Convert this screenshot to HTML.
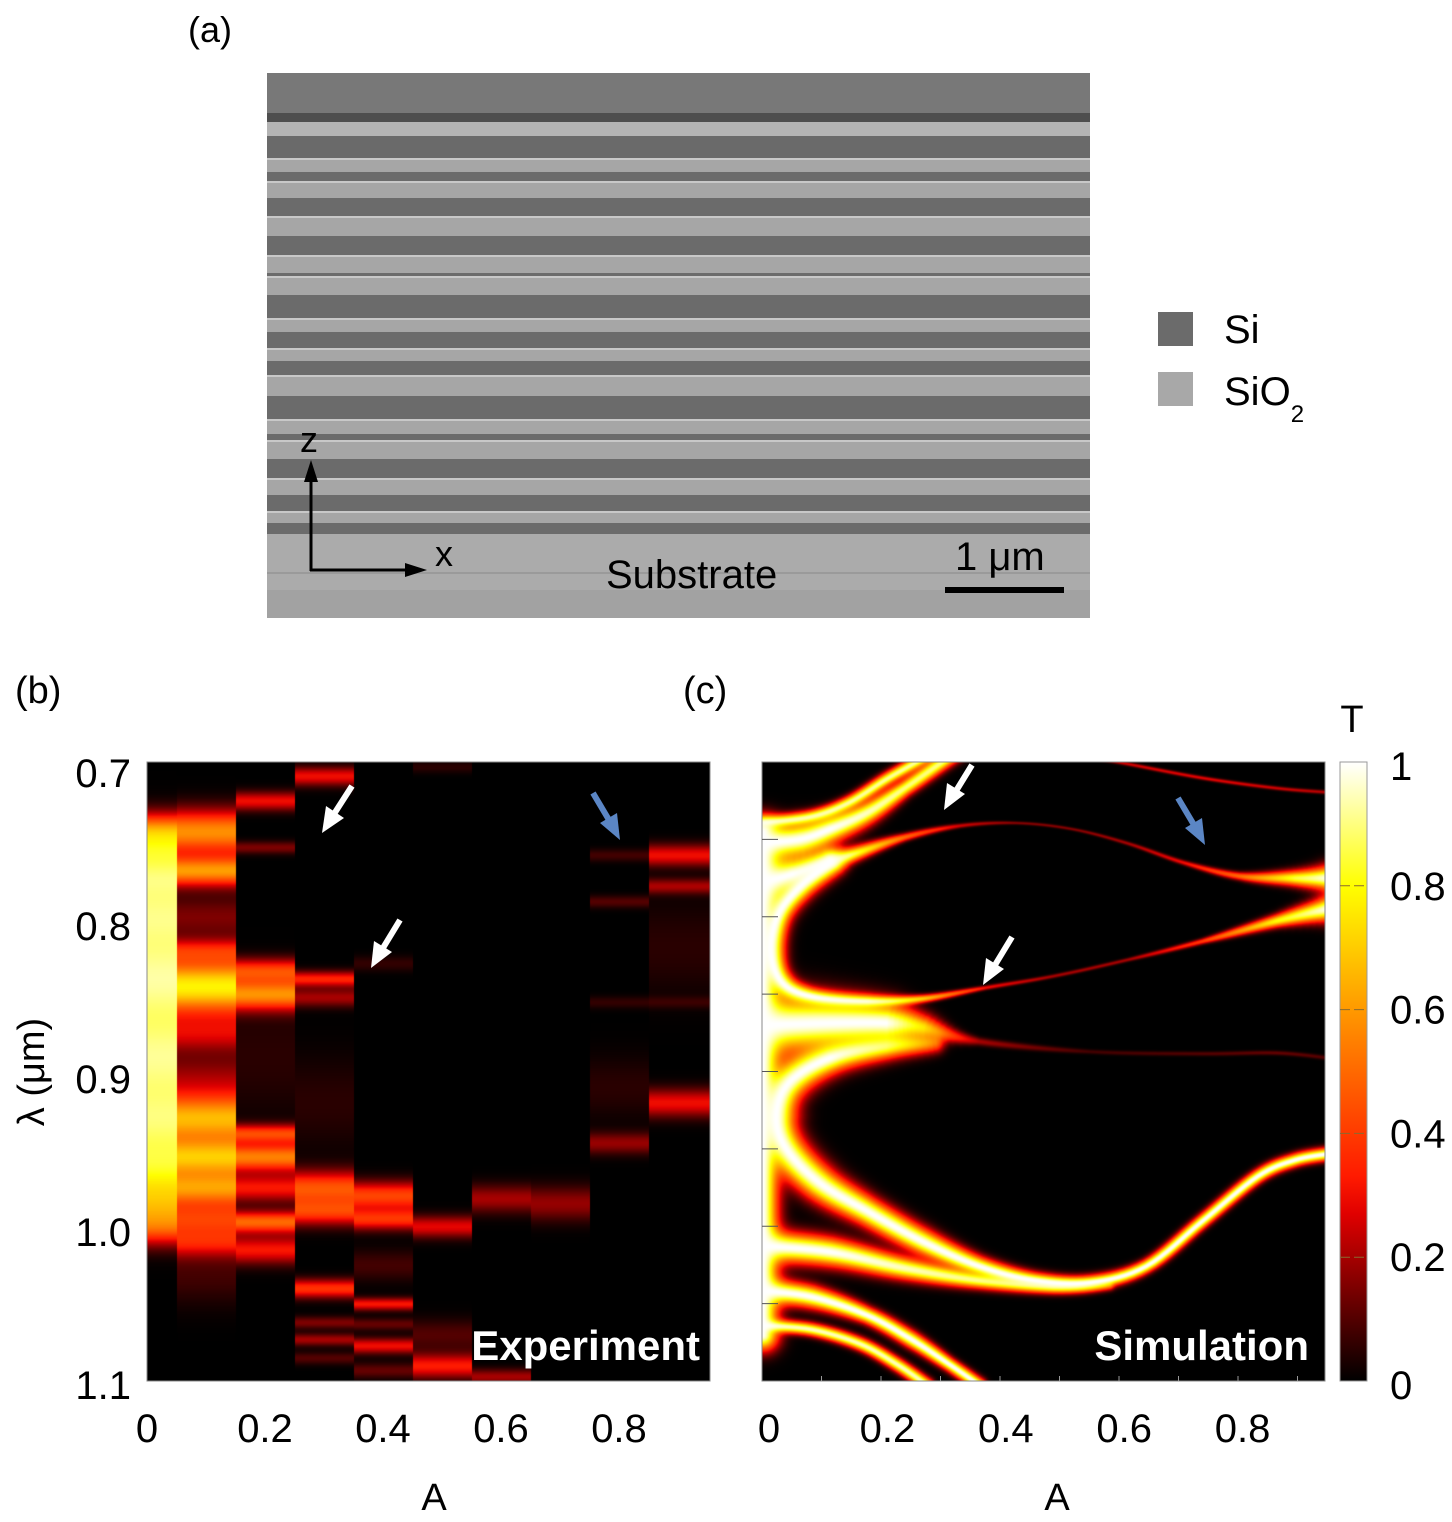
<!DOCTYPE html>
<html><head><meta charset="utf-8">
<style>
html,body{margin:0;padding:0;background:#fff;}
#wrap{position:relative;width:1452px;height:1522px;overflow:hidden;font-family:"Liberation Sans",sans-serif;}
canvas{position:absolute;}
svg{position:absolute;left:0;top:0;}
</style></head>
<body>
<div id="wrap">
<canvas id="cb" width="563" height="619" style="left:147px;top:762px"></canvas>
<canvas id="cc" width="563" height="619" style="left:762px;top:762px"></canvas>
<svg width="1452" height="1522" viewBox="0 0 1452 1522">
<defs>
<linearGradient id="hotg" x1="0" y1="1" x2="0" y2="0">
<stop offset="0" stop-color="#000"/><stop offset="0.27" stop-color="#e00000"/><stop offset="0.33" stop-color="#ff1a00"/>
<stop offset="0.55" stop-color="#ff8000"/><stop offset="0.8" stop-color="#ffff00"/><stop offset="1" stop-color="#ffffff"/>
</linearGradient>
</defs>
<text x="188" y="42" font-size="36">(a)</text>
<g id="sem"></g>
<g>
<line x1="311" y1="571" x2="311" y2="478" stroke="#000" stroke-width="3"/>
<polygon points="311,460 304,482 318,482" fill="#000"/>
<line x1="310" y1="570" x2="408" y2="570" stroke="#000" stroke-width="3"/>
<polygon points="427,570 405,563 405,577" fill="#000"/>
<text x="300" y="452" font-size="36">z</text>
<text x="435" y="566" font-size="36">x</text>
</g>
<text x="606" y="588" font-size="40">Substrate</text>
<text x="955" y="570" font-size="40">1 μm</text>
<rect x="945" y="587" width="119" height="6" fill="#000"/>
<g>
<rect x="1158" y="312" width="35" height="34" fill="#6b6b6b"/>
<text x="1224" y="343" font-size="40">Si</text>
<rect x="1158" y="372" width="35" height="34" fill="#a8a8a8"/>
<text x="1224" y="405" font-size="40">SiO<tspan font-size="24" dy="17">2</tspan></text>
</g>
<text x="15" y="703" font-size="38">(b)</text>
<text x="683" y="703" font-size="38">(c)</text>
<rect x="147" y="762" width="563" height="619" fill="none" stroke="#888" stroke-width="1"/>
<rect x="762" y="762" width="563" height="619" fill="none" stroke="#888" stroke-width="1"/>
<g id="ticks"></g>
<text transform="translate(44,1072) rotate(-90)" text-anchor="middle" font-size="38">λ (μm)</text>
<text x="434" y="1510" text-anchor="middle" font-size="38">A</text>
<text x="1057" y="1510" text-anchor="middle" font-size="38">A</text>
<text x="700" y="1360" text-anchor="end" font-size="42" font-weight="bold" fill="#fff">Experiment</text>
<text x="1309" y="1360" text-anchor="end" font-size="42" font-weight="bold" fill="#fff">Simulation</text>
<g>
<g><line x1="352" y1="786" x2="334" y2="814" stroke="#fff" stroke-width="6"/><polygon points="322,833 326,806 344,818" fill="#fff"/></g>
<g><line x1="400" y1="920" x2="383" y2="948" stroke="#fff" stroke-width="6"/><polygon points="371,968 374,941 392,952" fill="#fff"/></g>
<g><line x1="593" y1="793" x2="609" y2="820" stroke="#5b86c5" stroke-width="6"/><polygon points="620,840 600,823 617,813" fill="#5b86c5"/></g>
<g><line x1="972" y1="765" x2="956" y2="791" stroke="#fff" stroke-width="6"/><polygon points="944,810 947,783 965,794" fill="#fff"/></g>
<g><line x1="1012" y1="937" x2="995" y2="965" stroke="#fff" stroke-width="6"/><polygon points="983,985 986,958 1004,969" fill="#fff"/></g>
<g><line x1="1178" y1="798" x2="1194" y2="825" stroke="#5b86c5" stroke-width="6"/><polygon points="1205,845 1185,828 1202,818" fill="#5b86c5"/></g>
</g>
<rect x="1340" y="762" width="27" height="619" fill="url(#hotg)" stroke="#999" stroke-width="1"/>
<text x="1352" y="732" text-anchor="middle" font-size="38">T</text>
<g id="cbticks"></g>
</svg>
</div>
<script>
// ---------- SEM layer boundaries (y in image px) ----------
const semBounds=[158,172,181,198,216,236,255,273,276,295,318,332,348,361,375,396,419,434,440,459,478,495,511,523,534];
const semLight=[1,0,1,0,1,0,1,0,1,0,1,0,1,0,1,0,1,0,1,0,1,0,1,0];
// ---------- panel b data: per-column bands ----------
const bandCol=[0,0,0,0,0,0,0,0,0,0, 1,1,1,1,1,1,1,1,1,1,1,1,1, 2,2,2,2,2,2,2,2,2,2, 3,3,3,3,3,3,3,3,3,3, 4,4,4,4,4,4,4,4, 5,5,5,5, 6,6, 7, 8,8,8,8,8, 9,9,9,9,9];
const bandLam=[0.745,0.757,0.775,0.80,0.84,0.89,0.93,0.96,0.985,1.0, 0.745,0.77,0.80,0.822,0.845,0.875,0.905,0.93,0.955,0.975,0.995,1.01,1.03, 0.725,0.755,0.835,0.85,0.94,0.955,0.975,0.997,1.015,0.89, 0.709,0.84,0.852,0.975,0.99,1.04,1.062,1.073,1.085,0.92, 0.98,0.995,1.025,1.05,1.063,1.077,1.093,0.83, 0.703,1.0,1.09,1.07, 0.982,1.097, 0.985, 0.76,0.79,0.855,0.946,0.91, 0.76,0.78,0.855,0.92,0.82];
const bandT=[0.5,0.6,0.75,0.82,0.88,0.86,0.8,0.7,0.5,0.35, 0.58,0.6,0.15,0.3,0.78,0.25,0.18,0.65,0.68,0.58,0.38,0.3,0.08, 0.3,0.15,0.42,0.58,0.42,0.55,0.32,0.5,0.32,0.05, 0.3,0.35,0.2,0.45,0.4,0.38,0.15,0.2,0.1,0.05, 0.42,0.38,0.08,0.32,0.12,0.3,0.12,0.06, 0.05,0.28,0.33,0.1, 0.2,0.2, 0.18, 0.08,0.1,0.06,0.18,0.05, 0.3,0.2,0.06,0.3,0.05];
const bandW=[0.012,0.015,0.02,0.035,0.045,0.045,0.035,0.025,0.018,0.012, 0.014,0.01,0.014,0.008,0.018,0.012,0.018,0.016,0.014,0.012,0.012,0.01,0.02, 0.006,0.004,0.008,0.01,0.006,0.009,0.009,0.007,0.009,0.04, 0.006,0.005,0.006,0.011,0.009,0.006,0.004,0.004,0.004,0.03, 0.009,0.007,0.01,0.004,0.004,0.005,0.005,0.005, 0.004,0.007,0.008,0.01, 0.009,0.005, 0.011, 0.004,0.004,0.004,0.007,0.02, 0.007,0.005,0.004,0.009,0.03];
const colA=[0,0.1,0.2,0.3,0.4,0.5,0.6,0.7,0.8,0.9];
// ---------- panel c data: resonance curves (A, lambda, linewidth, peak T) ----------
const c1A=[0,0.083,0.145,0.2075,0.2575,0.295], c1L=[0.739,0.735,0.726,0.711,0.700,0.6916], c1W=[0.004,0.004,0.004,0.004,0.004,0.004], c1T=[0.92,0.92,0.92,0.92,0.92,0.92];
const c2A=[0,0.064,0.114,0.176,0.239,0.301,0.339], c2L=[0.752,0.7496,0.743,0.7325,0.7166,0.700,0.690], c2W=[0.011,0.011,0.009,0.007,0.005,0.005,0.005], c2T=[1,1,1,0.95,0.9,0.9,0.9];
const c3A=[0,0.051,0.145,0.239,0.3325,0.426,0.52,0.614,0.7075,0.801,0.895,0.951], c3L=[0.7774,0.7721,0.7602,0.7483,0.7409,0.7391,0.743,0.7523,0.7647,0.7734,0.7747,0.7747], c3W=[0.016,0.011,0.005,0.0025,0.0014,0.001,0.001,0.0012,0.0015,0.0025,0.005,0.008], c3T=[1,1,0.9,0.5,0.25,0.16,0.16,0.2,0.3,0.5,0.85,1];
const c4A=[0.551,0.601,0.739,0.864,0.951], c4L=[0.6968,0.70,0.710,0.7166,0.7193], c4W=[0.0012,0.0012,0.0012,0.0012,0.0012], c4T=[0.22,0.25,0.28,0.25,0.22];
const c5A=[0.951,0.864,0.739,0.614,0.489,0.376,0.27,0.176,0.0825,0.0325,0.01375,0.02625,0.06375,0.114], c5L=[0.7945,0.8024,0.8156,0.8275,0.8381,0.8455,0.8526,0.8544,0.8513,0.842,0.8222,0.7985,0.78,0.7642], c5W=[0.008,0.004,0.0018,0.0012,0.0012,0.0014,0.0025,0.004,0.005,0.007,0.008,0.008,0.008,0.008], c5T=[1,0.8,0.4,0.2,0.2,0.3,0.7,0.95,1,1,1,1,1,1];
const c6A=[0,0.114,0.2075,0.27,0.364,0.551,0.739,0.864,0.951], c6L=[0.8698,0.8684,0.8684,0.8711,0.8803,0.8869,0.8882,0.8877,0.8909], c6W=[0.02,0.016,0.013,0.008,0.0025,0.0014,0.0014,0.0014,0.0014], c6T=[1,1,1,0.75,0.2,0.08,0.1,0.12,0.1];
const c7A=[0.951,0.895,0.8325,0.739,0.645,0.551,0.4575,0.364,0.27,0.176,0.095,0.03875,0.023,0.045,0.114,0.2075,0.289], c7L=[0.9529,0.9569,0.9674,0.9965,1.0255,1.0361,1.0348,1.0255,1.0097,0.9899,0.9714,0.949,0.9278,0.9067,0.8909,0.8835,0.8816], c7W=[0.004,0.004,0.004,0.004,0.004,0.0045,0.005,0.006,0.008,0.009,0.011,0.012,0.013,0.012,0.01,0.008,0.006], c7T=[1,1,1,1,1,1,1,1,1,1,1,1,1,1,1,0.85,0.5];
const c8A=[0,0.114,0.239,0.364,0.489,0.5825], c8L=[1.0123,1.0163,1.0268,1.0348,1.0387,1.0379], c8W=[0.01,0.009,0.007,0.005,0.004,0.003], c8T=[1,1,0.95,0.9,0.75,0.4];
const c9A=[0,0.0825,0.176,0.251,0.314,0.364], c9L=[1.0414,1.0453,1.0572,1.073,1.0889,1.1021], c9W=[0.008,0.007,0.005,0.005,0.004,0.004], c9T=[1,1,1,1,1,1];
const c10A=[0,0.0825,0.164,0.226,0.276], c10L=[1.0638,1.0664,1.0757,1.0889,1.1021], c10W=[0.004,0.004,0.004,0.004,0.004], c10T=[0.95,0.95,0.95,0.95,0.95];
const c11A=[0,0,0], c11L=[0.745,0.9,1.07], c11W=[0.01,0.01,0.01], c11T=[1,1,1];
// ---------- ticks ----------
const yTickVals=[0.7,0.8,0.9,1.0,1.1];
const yTickLabels=["0.7","0.8","0.9","1.0","1.1"];
const xTickVals=[0,0.2,0.4,0.6,0.8];
const xTickLabels=["0","0.2","0.4","0.6","0.8"];
const cbVals=[0,0.2,0.4,0.6,0.8,1];
const cbLabels=["0","0.2","0.4","0.6","0.8","1"];

const NS="http://www.w3.org/2000/svg";
const PW=563,PH=619;
const xScale=a=>a*595;
const yScale=l=>(l-0.7)/0.4*PH;
function hot(t){
  t=Math.max(0,Math.min(1,t));
  const st=[[0,0,0,0],[0.27,224,0,0],[0.33,255,26,0],[0.55,255,128,0],[0.8,255,255,0],[1,255,255,255]];
  for(let i=1;i<st.length;i++){ if(t<=st[i][0]){const a=st[i-1],b=st[i],f=(t-a[0])/(b[0]-a[0]);
    return [a[1]+(b[1]-a[1])*f,a[2]+(b[2]-a[2])*f,a[3]+(b[3]-a[3])*f];}}
  return [255,255,255];
}
// SEM
(function(){
  const g=document.getElementById('sem');
  function r(x,y,w,h,f){const e=document.createElementNS(NS,'rect');e.setAttribute('x',x);e.setAttribute('y',y);e.setAttribute('width',w);e.setAttribute('height',h);e.setAttribute('fill',f);g.appendChild(e);return e;}
  r(267,73,823,545,'#9a9a9a');
  r(267,73,823,40,'#787878');
  r(267,113,823,9,'#4e4e4e');
  r(267,122,823,14,'#b4b4b4');
  r(267,136,823,22,'#6a6a6a');
  for(let i=0;i<semLight.length;i++){
    const y0=semBounds[i],y1=semBounds[i+1];
    r(267,y0,823,y1-y0,semLight[i]?'#a6a6a6':'#6b6b6b');
    if(semLight[i]) r(267,y0,823,2,'#c8c8c8');
  }
  r(267,534,823,84,'#ababab');
  r(267,572,823,2,'#9a9a9a');
  r(267,590,823,28,'#a2a2a2');
})();
// panel b
(function(){
  const cv=document.getElementById('cb'),ctx=cv.getContext('2d');
  const img=ctx.createImageData(PW,PH);
  for(let x=0;x<PW;x++){
    const a=x/590; let c=Math.round(a*10); if(c>9)c=9;
    for(let y=0;y<PH;y++){
      const l=0.7+y/PH*0.4; let p=1;
      for(let i=0;i<bandCol.length;i++){ if(bandCol[i]!==c)continue;
        const d=(l-bandLam[i])/bandW[i]; p*=1-bandT[i]*Math.exp(-d*d);}
      const col=hot(1-p),k=(y*PW+x)*4;
      img.data[k]=col[0];img.data[k+1]=col[1];img.data[k+2]=col[2];img.data[k+3]=255;
    }
  }
  ctx.putImageData(img,0,0);
})();
// panel c
(function(){
  const curves=[[c1A,c1L,c1W,c1T],[c2A,c2L,c2W,c2T],[c3A,c3L,c3W,c3T],[c4A,c4L,c4W,c4T],[c5A,c5L,c5W,c5T],[c6A,c6L,c6W,c6T],[c7A,c7L,c7W,c7T],[c8A,c8L,c8W,c8T],[c9A,c9L,c9W,c9T],[c10A,c10L,c10W,c10T],[c11A,c11L,c11W,c11T]];
  function smooth(cu){
    const n=cu[0].length,P=[];
    for(let i=0;i<n;i++)P.push([xScale(cu[0][i]),yScale(cu[1][i]),cu[2][i]/0.4*PH,cu[3][i]]);
    if(n<3)return P;
    const out=[],S=8;
    for(let i=0;i<n-1;i++){
      const p0=P[Math.max(0,i-1)],p1=P[i],p2=P[i+1],p3=P[Math.min(n-1,i+2)];
      for(let s=0;s<S;s++){const t=s/S,t2=t*t,t3=t2*t;
        const cr=k=>0.5*((2*p1[k])+(-p0[k]+p2[k])*t+(2*p0[k]-5*p1[k]+4*p2[k]-p3[k])*t2+(-p0[k]+3*p1[k]-3*p2[k]+p3[k])*t3);
        out.push([cr(0),cr(1),p1[2]+(p2[2]-p1[2])*t,p1[3]+(p2[3]-p1[3])*t]);}
    }
    out.push(P[n-1]);return out;
  }
  const segs=curves.map(cu=>{const q=smooth(cu),s=[];for(let i=0;i<q.length-1;i++){
    s.push([q[i][0],q[i][1],q[i+1][0],q[i+1][1],q[i][2],q[i+1][2],q[i][3],q[i+1][3]]);}return s;});
  const cv=document.getElementById('cc'),ctx=cv.getContext('2d');
  const img=ctx.createImageData(PW,PH);
  for(let y=0;y<PH;y++)for(let x=0;x<PW;x++){
    let p=1;
    for(const s of segs){let best=0;
      for(const g of s){
        const dx=g[2]-g[0],dy=g[3]-g[1],L2=dx*dx+dy*dy||1;
        let t=((x-g[0])*dx+(y-g[1])*dy)/L2; t=t<0?0:t>1?1:t;
        const px=g[0]+dx*t-x,py=g[1]+dy*t-y,w=g[4]+(g[5]-g[4])*t;
        const d2=(px*px+py*py)/(w*w); if(d2>9)continue;
        const v=(g[6]+(g[7]-g[6])*t)*Math.exp(-d2); if(v>best)best=v;}
      p*=1-best;}
    const col=hot(1-p),k=(y*PW+x)*4;
    img.data[k]=col[0];img.data[k+1]=col[1];img.data[k+2]=col[2];img.data[k+3]=255;
  }
  ctx.putImageData(img,0,0);
})();
// ticks and labels
(function(){
  const g=document.getElementById('ticks');
  function txt(x,y,s,anchor,name){const e=document.createElementNS(NS,'text');e.setAttribute('x',x);e.setAttribute('y',y);e.setAttribute('font-size','40');e.setAttribute('text-anchor',anchor);e.textContent=s;
    
    
    g.appendChild(e);}
  yTickVals.forEach((v,i)=>{const y=773+(v-0.7)/0.4*612;txt(131,y+14,yTickLabels[i],'end','y-tick-label');});
  xTickVals.forEach((v,i)=>{txt(147+v*590,1442,xTickLabels[i],'middle','x-tick-label-b');txt(769+v*592,1442,xTickLabels[i],'middle','x-tick-label-c');});
  for(let k=1;k<=9;k++){const l=document.createElementNS(NS,'line');const x=762+k*0.1*595;
    l.setAttribute('x1',x);l.setAttribute('x2',x);l.setAttribute('y1',1381);l.setAttribute('y2',1376);l.setAttribute('stroke','#999');
    
    
    g.appendChild(l);}
  for(let k=1;k<=7;k++){const l=document.createElementNS(NS,'line');const y=762+yScale(0.7+k*0.05);
    l.setAttribute('x1',762);l.setAttribute('x2',778);l.setAttribute('y1',y);l.setAttribute('y2',y);l.setAttribute('stroke','#555');
    
    
    g.appendChild(l);}
  const cg=document.getElementById('cbticks');
  cbVals.forEach((v,i)=>{const y=1381-v*619;const e=document.createElementNS(NS,'text');
    e.setAttribute('x',1390);e.setAttribute('y',(v===1||v===0)?y+18:y+14);e.setAttribute('font-size','40');e.textContent=cbLabels[i];
    
    
    cg.appendChild(e);
    if(v>0&&v<1){const l=document.createElementNS(NS,'line');l.setAttribute('x1',1340);l.setAttribute('x2',1367);l.setAttribute('y1',y);l.setAttribute('y2',y);l.setAttribute('stroke','#8a6a30');l.setAttribute('stroke-dasharray','10 4');
    
    
    cg.appendChild(l);}
  });
})();
</script>
</body></html>
